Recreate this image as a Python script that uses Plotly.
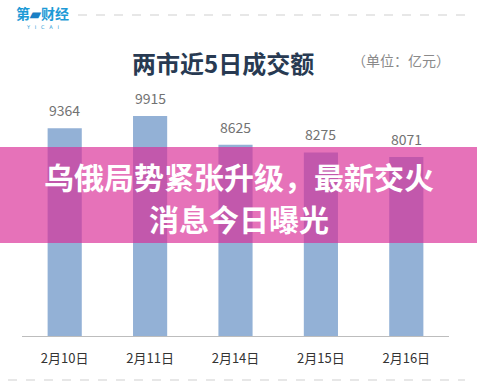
import plotly.graph_objects as go

categories = ["2月10日", "2月11日", "2月14日", "2月15日", "2月16日"]
values = [9364, 9915, 8625, 8275, 8071]
value_labels = ["9364", "9915", "8625", "8275", "8071"]

W, H = 477, 392
L, R, T, B = 22, 28, 92, 56
PW, PH = W - L - R, H - T - B
FONT = "Noto Sans CJK SC"


def px(x):
    return (x - L) / PW


def py(y):
    return (H - B - y) / PH


fig = go.Figure()
fig.add_trace(go.Bar(
    x=categories, y=values,
    marker=dict(color="#93b1d6", line=dict(width=0)),
    hoverinfo="skip",
))

annotations = []
for c, v, t in zip(categories, values, value_labels):
    annotations.append(dict(x=c, y=v, text=t, showarrow=False, xref="x", yref="y",
                            xanchor="center", yanchor="bottom", yshift=6,
                            font=dict(family=FONT, size=14, color="#727272")))


def txt(x, y, text, size, color, family=FONT):
    return dict(x=px(x), y=py(y), xref="paper", yref="paper", text=text,
                showarrow=False, xanchor="center", yanchor="middle",
                font=dict(family=family, size=size, color=color))


annotations += [
    txt(223, 63, "<b>两市近5日成交额</b>", 24, "#283a52"),
    txt(401, 60, "（单位：亿元）", 14, "#8a8a8a"),
    txt(42, 13, "<b>第<span style='color:#1a7fc4'>▰</span>财经</b>", 14, "#1d9ad6"),
    txt(42, 27.5, "Y   I   C   A   I", 5, "#1d9ad6", "DejaVu Sans"),
    txt(W / 2, 176, "<b>乌俄局势紧张升级，最新交火</b>", 30, "#ffffff"),
    txt(W / 2, 218, "<b>消息今日曝光</b>", 30, "#ffffff"),
]

shapes = [
    dict(type="line", xref="paper", yref="paper", x0=px(78), x1=px(465), y0=py(15), y1=py(15),
         line=dict(color="#cfcfcf", width=1, dash="dash")),
    dict(type="line", xref="paper", yref="paper", x0=px(8), x1=px(465), y0=py(380), y1=py(380),
         line=dict(color="#cfcfcf", width=1, dash="dash")),
    dict(type="rect", xref="paper", yref="paper", x0=px(0), x1=px(W), y0=py(243), y1=py(147),
         fillcolor="rgba(218,45,150,0.67)", line=dict(width=0), layer="above"),
]

fig.update_layout(
    width=W, height=H,
    margin=dict(l=L, r=R, t=T, b=B),
    paper_bgcolor="white", plot_bgcolor="white",
    bargap=0.6,
    showlegend=False,
    annotations=annotations,
    shapes=shapes,
    xaxis=dict(showline=True, linecolor="#bdbdbd", linewidth=1, showgrid=False,
               tickfont=dict(family=FONT, size=13, color="#333333"),
               ticks="", ticklabelstandoff=10, fixedrange=True),
    yaxis=dict(range=[0, 11000], visible=False, showgrid=False, fixedrange=True),
)

fig.write_html("out.html", config={"displayModeBar": False},
               post_script="document.body.style.margin='0';")
